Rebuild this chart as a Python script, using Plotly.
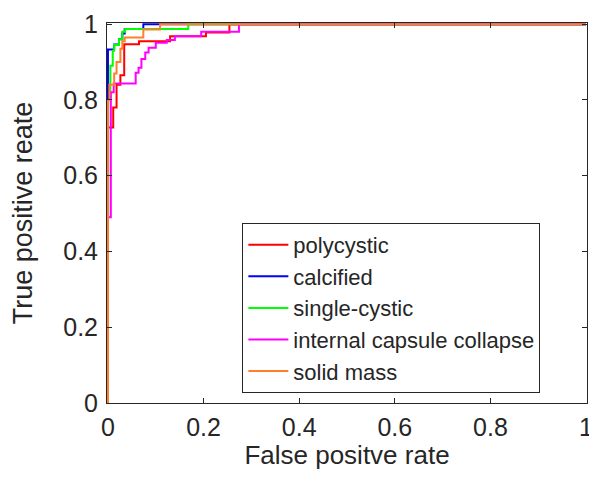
import plotly.graph_objects as go

# ROC step corners (FPR, TPR)
names = ["polycystic", "calcified", "single-cystic", "internal capsule collapse", "solid mass"]
colors = ["#FF0000", "#0000FF", "#00FF00", "#FF00FF", "#FF7F2A"]

fpr_poly = [0, 0.011, 0.018, 0.026, 0.034, 0.065, 0.13, 0.205, 0.254, 1]
tpr_poly = [0, 0.727, 0.78, 0.84, 0.865, 0.947, 0.955, 0.968, 0.978, 1]

fpr_calc = [0, 0.013, 0.023, 0.03, 0.035, 0.074, 1]
tpr_calc = [0, 0.933, 0.946, 0.96, 0.975, 0.987, 1]

fpr_single = [0, 0.005, 0.01, 0.013, 0.023, 0.03, 0.036, 0.168, 1]
tpr_single = [0, 0.80, 0.89, 0.93, 0.945, 0.96, 0.98, 0.987, 1]

fpr_icc = [0, 0.006, 0.012, 0.058, 0.064, 0.07, 0.078, 0.085, 0.10, 0.123, 0.14, 0.195, 0.274, 1]
tpr_icc = [0, 0.49, 0.82, 0.843, 0.872, 0.885, 0.908, 0.925, 0.938, 0.951, 0.958, 0.968, 0.98, 1]

fpr_solid = [0, 0.003, 0.013, 0.018, 0.026, 0.03, 0.035, 0.074, 0.109, 1]
tpr_solid = [0, 0.80, 0.84, 0.87, 0.90, 0.935, 0.955, 0.965, 0.986, 1]

series = [(fpr_poly, tpr_poly), (fpr_calc, tpr_calc), (fpr_single, tpr_single),
          (fpr_icc, tpr_icc), (fpr_solid, tpr_solid)]

x_ticks = [0, 0.2, 0.4, 0.6, 0.8, 1]
y_ticks = [0, 0.2, 0.4, 0.6, 0.8, 1]
x_tick_text = ["0", "0.2", "0.4", "0.6", "0.8", "1"]
y_tick_text = ["0", "0.2", "0.4", "0.6", "0.8", "1"]

FONT = "Liberation Sans, Arial, sans-serif"
AX = "#262626"

fig = go.Figure()
for (fx, ty), n, c in zip(series, names, colors):
    fig.add_trace(go.Scatter(x=fx, y=ty, mode="lines", name=n,
                             line=dict(color=c, width=2, shape="vh")))

axis_common = dict(showgrid=False, zeroline=False, showline=True, linecolor=AX,
                   linewidth=1, mirror="ticks", ticks="inside", ticklen=5,
                   tickcolor=AX, automargin=False, ticklabeloverflow="allow",
                   tickfont=dict(family=FONT, size=25, color=AX))

# page body has an 8px margin: the figure is sized so the page never overflows the window
fig.update_layout(
    width=581, height=462,
    margin=dict(l=99, r=2, t=15, b=67),
    paper_bgcolor="white", plot_bgcolor="white",
    font=dict(family=FONT, color=AX),
    xaxis=dict(range=[-0.002, 1.002], tickvals=x_ticks, ticktext=x_tick_text,
               ticklabelstandoff=2,
               title=dict(text="False positve rate", font=dict(family=FONT, size=26, color=AX),
                          standoff=10),
               **axis_common),
    yaxis=dict(range=[0, 1.003], tickvals=y_ticks, ticktext=y_tick_text,
               ticklabelstandoff=3,
               title=dict(text="True positive reate", font=dict(family=FONT, size=27, color=AX),
                          standoff=26),
               **axis_common),
    legend=dict(x=0.282, y=0.474, xanchor="left", yanchor="top",
                bgcolor="white", bordercolor=AX, borderwidth=1,
                font=dict(family=FONT, size=22, color=AX),
                tracegroupgap=0, itemwidth=40),
    showlegend=True,
)

fig.write_html("out.html")
